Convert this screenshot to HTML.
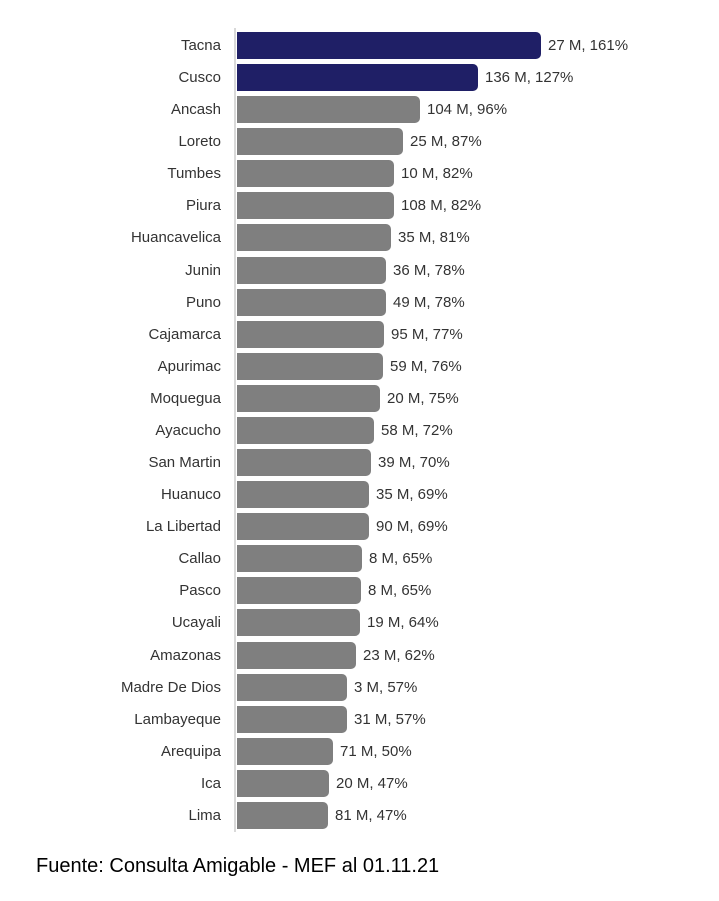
<!DOCTYPE html>
<html><head><meta charset="utf-8"><style>
body{margin:0;background:#fff;width:719px;height:901px;position:relative;overflow:hidden;font-family:"Liberation Sans",sans-serif}
.r{position:absolute;left:0;height:32px;width:719px}
.n{position:absolute;right:498px;top:8px;font-size:15px;color:#333;white-space:nowrap}
.b{position:absolute;left:237px;top:3px;height:27px;background:#7f7f7f;border-radius:0 5px 5px 0}
.v{position:absolute;top:8px;font-size:15px;color:#333;white-space:nowrap}
#ax{position:absolute;left:234px;top:28px;width:2px;height:804px;background:#d9d9d9}
#f{position:absolute;left:36px;top:855px;font-size:20px;color:#000}
</style></head><body>
<div id="ax"></div>
<div id="c"></div>
<div id="f">Fuente: Consulta Amigable - MEF al 01.11.21</div>
<script>
var d=[["Tacna",541,"27 M, 161%",1],["Cusco",478,"136 M, 127%",1],["Ancash",420,"104 M, 96%"],["Loreto",403,"25 M, 87%"],["Tumbes",394,"10 M, 82%"],["Piura",394,"108 M, 82%"],["Huancavelica",391,"35 M, 81%"],["Junin",386,"36 M, 78%"],["Puno",386,"49 M, 78%"],["Cajamarca",384,"95 M, 77%"],["Apurimac",383,"59 M, 76%"],["Moquegua",380,"20 M, 75%"],["Ayacucho",374,"58 M, 72%"],["San Martin",371,"39 M, 70%"],["Huanuco",369,"35 M, 69%"],["La Libertad",369,"90 M, 69%"],["Callao",362,"8 M, 65%"],["Pasco",361,"8 M, 65%"],["Ucayali",360,"19 M, 64%"],["Amazonas",356,"23 M, 62%"],["Madre De Dios",347,"3 M, 57%"],["Lambayeque",347,"31 M, 57%"],["Arequipa",333,"71 M, 50%"],["Ica",329,"20 M, 47%"],["Lima",328,"81 M, 47%"]];
var h="";d.forEach(function(r,i){var t=29+i*32.08;h+='<div class="r" style="top:'+t+'px"><div class="n">'+r[0]+'</div><div class="b" style="width:'+(r[1]-237)+'px'+(r[3]?';background:#1f1f66':'')+'"></div><div class="v" style="left:'+(r[1]+7)+'px">'+r[2]+'</div></div>';});
document.getElementById("c").innerHTML=h;
</script>
</body></html>
